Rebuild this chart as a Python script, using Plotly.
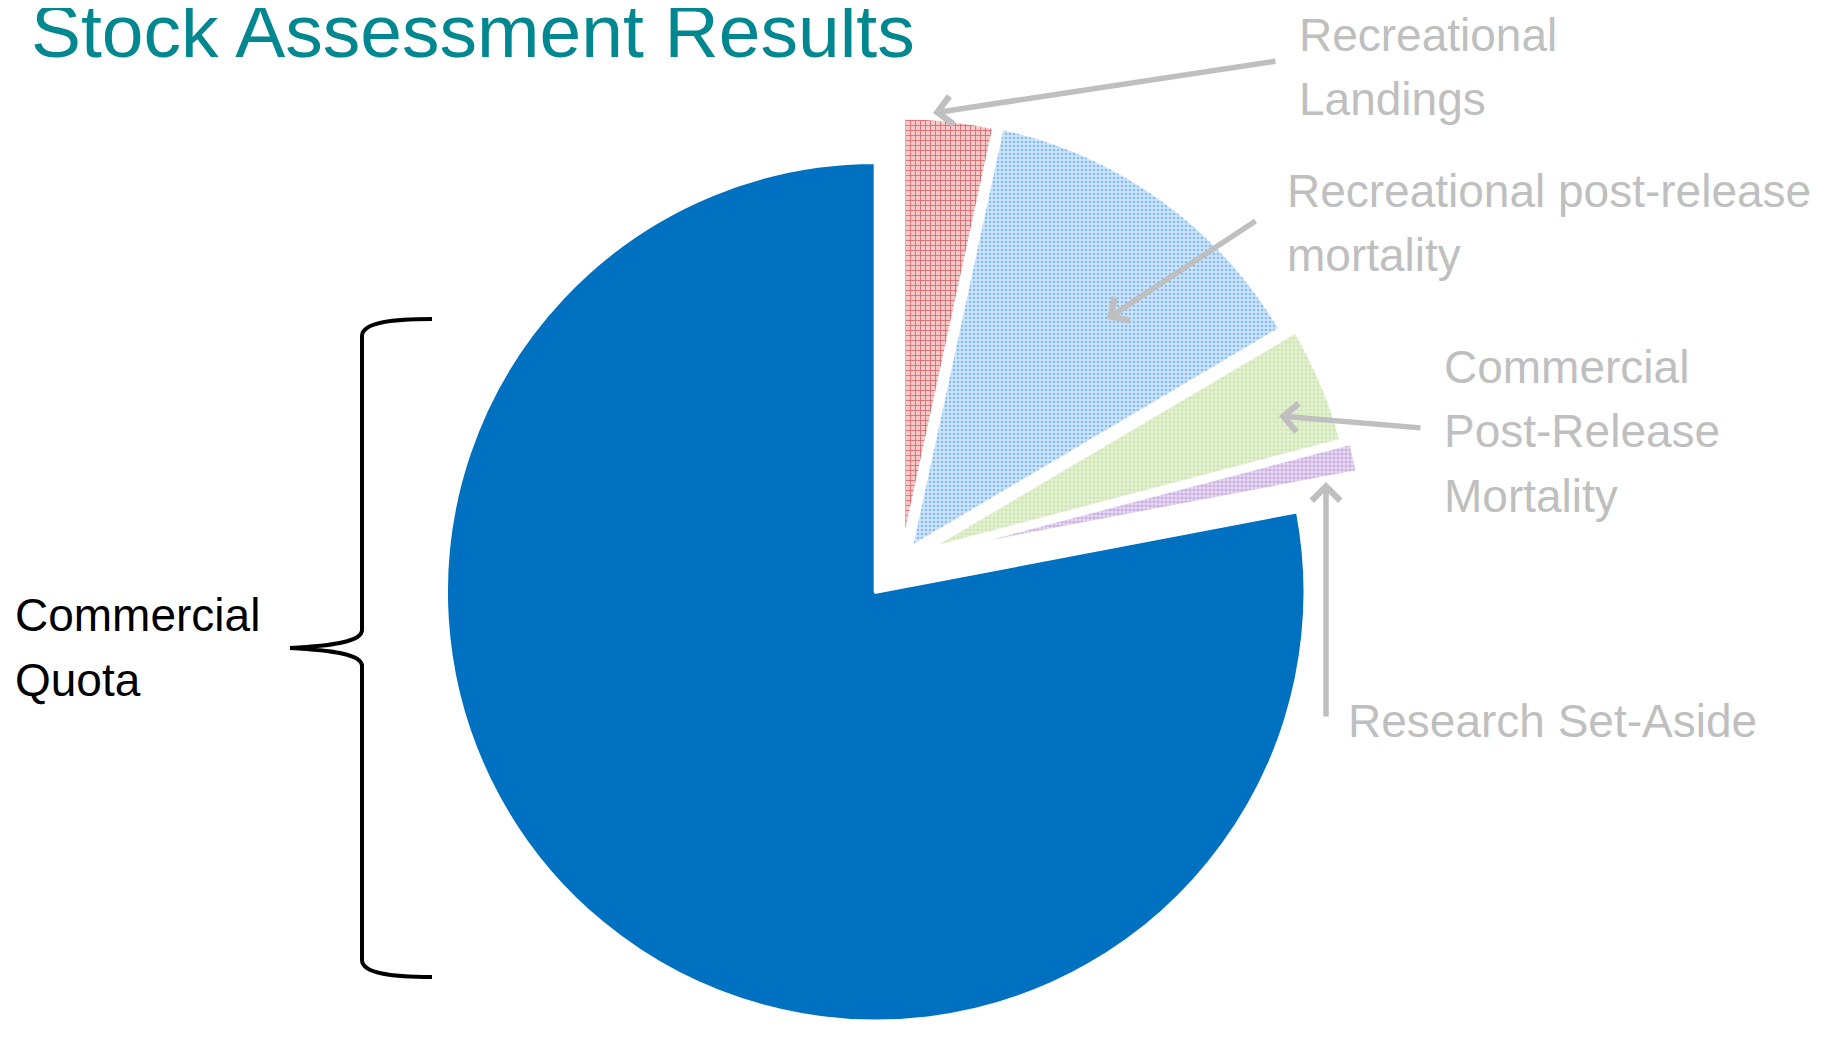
import plotly.graph_objects as go

# ---------------- data ----------------
labels = ["Recreational Landings",
          "Recreational post-release mortality",
          "Commercial Post-Release Mortality",
          "Research Set-Aside",
          "Commercial Quota"]
values = [3.4, 13.1, 4.4, 1.1, 78.0]

title_text = "Stock Assessment Results"
callout_lines = [["Recreational", "Landings"],
                 ["Recreational post-release", "mortality"],
                 ["Commercial", "Post-Release", "Mortality"],
                 ["Research Set-Aside"],
                 ["Commercial", "Quota"]]

# ---------------- styles ----------------
fill_bg = ["#f5c8c8", "#cfe5fb", "#e7f3d8", "#e9ddf3", "#0070c0"]
fill_fg = ["#d7646a", "#85bcef", "#c0dd9a", "#b391d3", "#0070c0"]
pat_shape = ["+", ".", "+", "+", ""]
pat_size = [5, 4, 4, 4, 4]
pat_solid = [0.3, 0.35, 0.3, 0.3, 0.3]
pulls = [0.03, 0.035, 0.06, 0.08, 0.096]

GRAY = "#bfbfbf"
TEAL = "#00878f"
FONT = "Liberation Sans Narrow, Arial Narrow, Liberation Sans, Arial, sans-serif"

# page geometry (screen px -> paper)
OX, OY = 8, 8
PW, PH = 1824, 1023


def px(sx):
    return (sx - OX) / PW


def py(sy):
    return 1 - (sy - OY) / PH


# pie placement
cx, cy = 902, 560
half = PH - (cy - OY)
dom_x = [px(cx - half), px(cx + half)]
dom_y = [0, 2 * half / PH]

fig = go.Figure()
fig.add_trace(go.Pie(
    labels=labels, values=values, sort=False, direction="clockwise", rotation=0,
    pull=pulls, textinfo="none", showlegend=False,
    hovertemplate="%{label}: %{percent}<extra></extra>",
    marker=dict(colors=fill_bg, line=dict(color="white", width=4),
                pattern=dict(shape=pat_shape, fgcolor=fill_fg, bgcolor=fill_bg,
                             size=pat_size, solidity=pat_solid, fillmode="replace")),
    domain=dict(x=dom_x, y=dom_y),
))

annotations = []
# title
annotations.append(dict(text=title_text, x=px(29), y=py(31), xref="paper", yref="paper",
                        xanchor="left", yanchor="middle", showarrow=False,
                        font=dict(family=FONT, size=75, color=TEAL)))

# callout text (left x, line centres y)
label_pos = [(1297, [35, 99]), (1285, [191, 255]), (1442, [367, 431, 496]),
             (1346, [721]), (13, [615, 680])]
label_col = [GRAY, GRAY, GRAY, GRAY, "black"]
for lines, (lx, ys), col in zip(callout_lines, label_pos, label_col):
    for t, ly in zip(lines, ys):
        annotations.append(dict(text=t, x=px(lx), y=py(ly), xref="paper", yref="paper",
                                xanchor="left", yanchor="middle", showarrow=False,
                                font=dict(family=FONT, size=46, color=col)))

# arrows (head, tail) in screen px
arrows = [((933, 113), (1277, 61)),
          ((1107, 319), (1257, 220)),
          ((1279, 416), (1422, 428)),
          ((1326, 482), (1326, 718))]
for (hx, hy), (tx, ty) in arrows:
    annotations.append(dict(text="", x=px(hx), y=py(hy), xref="paper", yref="paper",
                            ax=tx - hx, ay=ty - hy, showarrow=True, arrowhead=4,
                            arrowsize=1.0, arrowwidth=5.5, arrowcolor=GRAY, standoff=0,
                            startstandoff=0))

# curly brace
pts = [("M", [(432, 319)]),
       ("C", [(395, 319), (362, 322), (362, 336)]),
       ("L", [(362, 630)]),
       ("C", [(362, 642), (330, 646), (290, 648)]),
       ("C", [(330, 650), (362, 654), (362, 666)]),
       ("L", [(362, 960)]),
       ("C", [(362, 974), (395, 977), (432, 977)])]
path = " ".join(cmd + " " + " ".join(f"{px(a):.5f},{py(b):.5f}" for a, b in p) for cmd, p in pts)

fig.update_layout(
    margin=dict(l=0, r=0, t=0, b=0),
    paper_bgcolor="white", plot_bgcolor="white",
    annotations=annotations,
    shapes=[dict(type="path", path=path, xref="paper", yref="paper",
                 line=dict(color="black", width=4))],
)

fig.write_html("out.html")
